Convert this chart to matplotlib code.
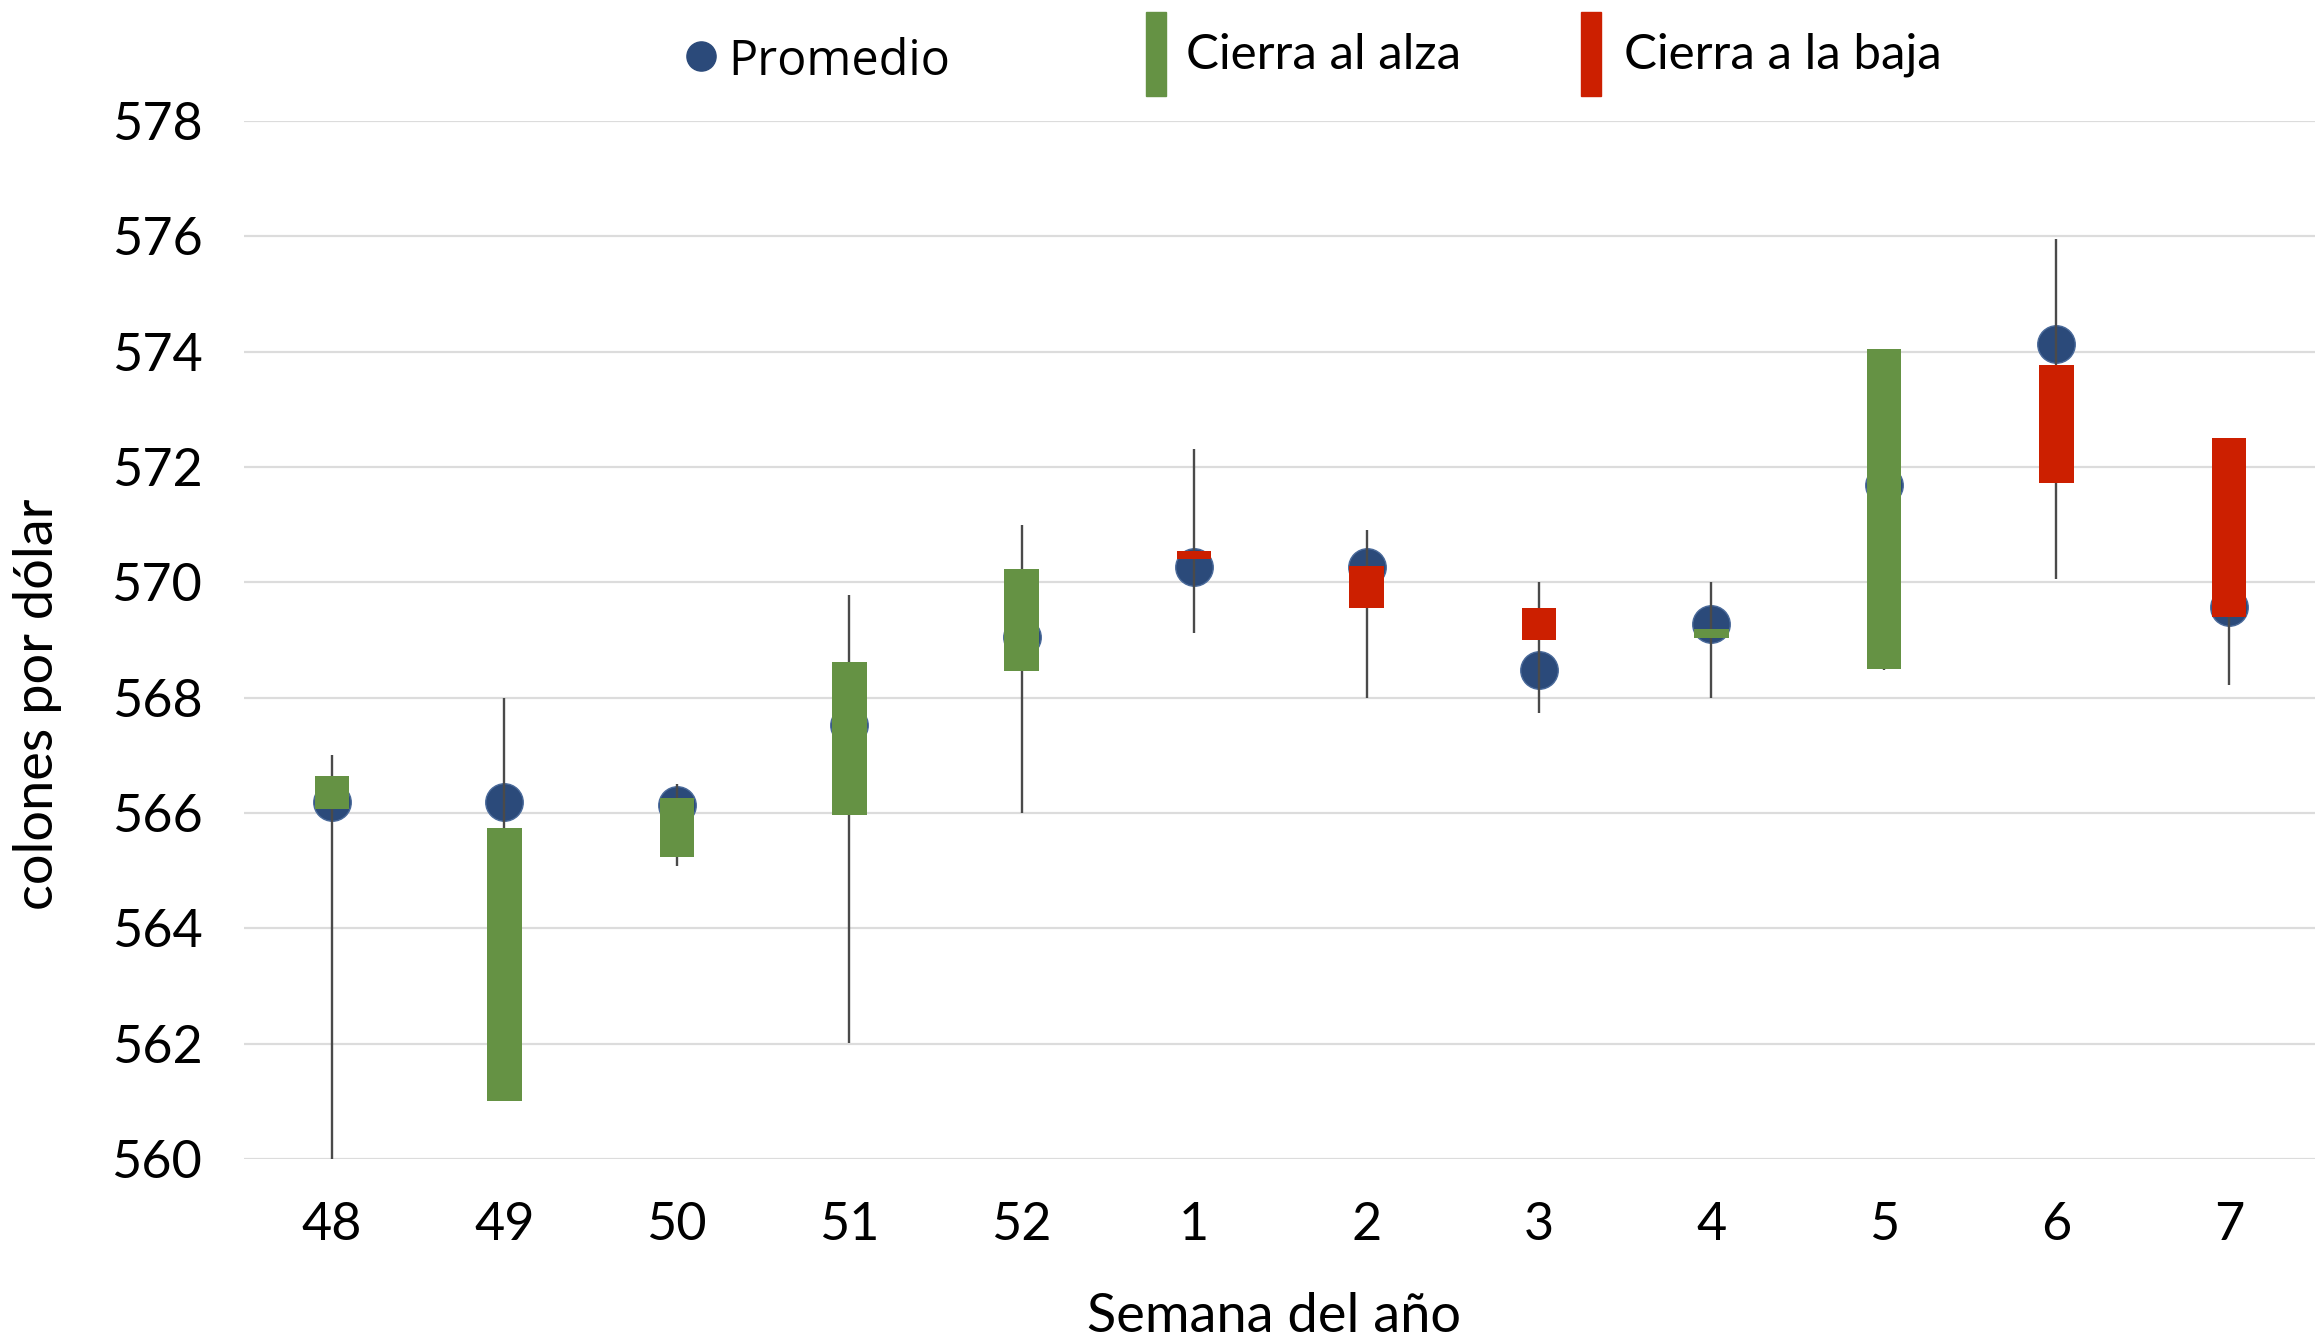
import matplotlib
matplotlib.use("Agg")
import matplotlib.pyplot as plt
import numpy as np
from matplotlib.patches import Rectangle
from matplotlib.lines import Line2D

weeks = ['48', '49', '50', '51', '52', '1', '2', '3', '4', '5', '6', '7']
open_ = [566.07, 561.00, 565.23, 565.97, 568.46, 570.55, 570.28, 569.55, 569.04, 568.50, 573.77, 572.50]
close = [566.64, 565.74, 566.26, 568.62, 570.23, 570.41, 569.56, 569.00, 569.19, 574.04, 571.73, 569.40]
high = [567.00, 568.00, 566.51, 569.78, 571.00, 572.32, 570.90, 570.00, 570.00, 574.04, 575.96, 572.50]
low = [560.00, 561.00, 565.08, 562.02, 566.00, 569.12, 568.00, 567.74, 568.00, 568.48, 570.06, 568.22]
mean = [566.19, 566.19, 566.14, 567.53, 569.06, 570.27, 570.27, 568.48, 569.27, 571.69, 574.13, 569.58]
yticks = [560, 562, 564, 566, 568, 570, 572, 574, 576, 578]

GREEN = '#659244'
RED = '#cc1f00'
BLUE = '#2b4a7a'
WICK = '#4a4a4a'
FONT = 'Lato'

W, H = 2315, 1340
fig = plt.figure(figsize=(W / 100, H / 100), dpi=100)
ax = fig.add_axes([244 / W, 1 - 1159 / H, (W - 244) / W, (1159 - 121) / H])

x = np.arange(len(weeks))
o = np.array(open_)
c = np.array(close)
colors = [GREEN if cc >= oo else RED for oo, cc in zip(o, c)]

ax.plot(x, mean, 'o', ms=27, color=BLUE, mec='#4a6a9a', mew=1.0, zorder=2, ls='none')
ax.vlines(x, low, high, color=WICK, lw=1.7, zorder=3)
ax.bar(x, np.abs(c - o), bottom=np.minimum(o, c), width=0.2, color=colors, zorder=4)

ax.set_xlim(-0.51, 11.5)
ax.set_ylim(560, 578)
ax.set_yticks(yticks)
ax.set_yticklabels([str(v) for v in yticks])
ax.set_xticks(x)
ax.set_xticklabels(weeks)
ax.grid(axis='y', color='#dcdcdc', lw=1.6, zorder=0)
ax.set_axisbelow(True)
for s in ax.spines.values():
    s.set_visible(False)
ax.tick_params(axis='both', length=0, labelsize=37.5, colors='black')
ax.tick_params(axis='y', pad=30)
ax.tick_params(axis='x', pad=31)
for lab in ax.get_xticklabels() + ax.get_yticklabels():
    lab.set_fontfamily(FONT)

fig.text(38 / W, 1 - 704 / H, 'colones por dólar', rotation=90, ha='center', va='center',
         fontsize=39, family=FONT)
fig.text(1274 / W, 1 - 1316 / H, 'Semana del año', ha='center', va='center',
         fontsize=39, family=FONT)

# legend
fig.add_artist(Line2D([701 / W], [1 - 56 / H], marker='o', ms=21, color=BLUE, ls='none',
                      transform=fig.transFigure))
fig.text(728 / W, 1 - 62 / H, 'Promedio', ha='left', va='center', fontsize=35, family='Open Sans',
         weight='medium')
fig.add_artist(Rectangle((1146 / W, 1 - 96 / H), 20 / W, 84 / H, color=GREEN, transform=fig.transFigure))
fig.text(1186 / W, 1 - 55 / H, 'Cierra al alza', ha='left', va='center', fontsize=35.5, family=FONT)
fig.add_artist(Rectangle((1581 / W, 1 - 96 / H), 20 / W, 84 / H, color=RED, transform=fig.transFigure))
fig.text(1624 / W, 1 - 55 / H, 'Cierra a la baja', ha='left', va='center', fontsize=35.5, family=FONT)

fig.savefig('out.png', dpi=100)
